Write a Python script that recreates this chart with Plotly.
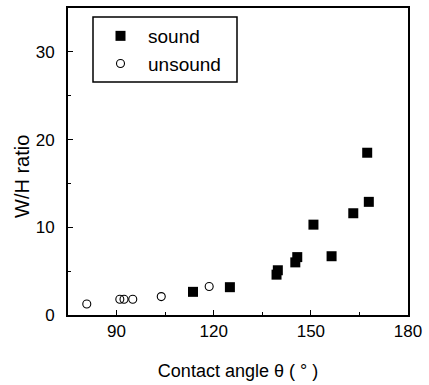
import plotly.graph_objects as go

sound_x = [113.6, 125.0, 139.4, 139.8, 145.2, 145.8, 150.8, 156.4, 163.1, 167.4, 167.9]
sound_y = [2.64, 3.17, 4.6, 5.1, 6.0, 6.6, 10.3, 6.7, 11.6, 18.5, 12.9]
unsound_x = [80.8, 91.0, 92.3, 95.0, 103.8, 118.6]
unsound_y = [1.26, 1.8, 1.8, 1.8, 2.1, 3.25]

x_ticks = [90, 120, 150, 180]
y_ticks = [0, 10, 20, 30]

font_family = "Liberation Sans, Arial, sans-serif"

# plot-area geometry (pixels) used to place the legend frame
L, R, T, B = 68, 408, 8, 315
W, H = R - L, B - T

fig = go.Figure()
fig.add_trace(go.Scatter(
    x=sound_x, y=sound_y, mode="markers", name="sound", legendgroup="a",
    marker=dict(symbol="square", size=10, color="black", line=dict(width=0))
))
fig.add_trace(go.Scatter(
    x=unsound_x, y=unsound_y, mode="markers", name="unsound", legendgroup="b",
    marker=dict(symbol="circle-open", size=8, color="black", line=dict(width=1.1))
))

fig.update_layout(
    width=429, height=385,
    margin=dict(l=L, r=429 - R, t=T, b=385 - B),
    paper_bgcolor="white", plot_bgcolor="white",
    font=dict(family=font_family, size=17, color="black"),
    showlegend=True,
    legend=dict(
        x=(93 - L) / W, y=(B - 17) / H, xanchor="left", yanchor="top",
        bgcolor="rgba(0,0,0,0)", borderwidth=0,
        font=dict(size=19, family=font_family),
        itemwidth=45,
        tracegroupgap=0,
    ),
    shapes=[dict(
        type="rect", xref="paper", yref="paper", layer="above",
        x0=(93 - L) / W, x1=(237 - L) / W, y0=(B - 82) / H, y1=(B - 17) / H,
        line=dict(color="black", width=1.5), fillcolor="rgba(0,0,0,0)",
    )],
    xaxis=dict(
        range=[75, 180], tickvals=x_ticks, ticks="inside", ticklen=5,
        tickcolor="black", showline=True, linecolor="black", linewidth=1.8,
        mirror=True, showgrid=False, zeroline=False, automargin=False,
        minor=dict(tickvals=[105, 135, 165], ticks="inside", ticklen=3, tickcolor="black"),
        title=dict(text="Contact angle θ ( ° )", font=dict(size=18), standoff=24),
        tickfont=dict(size=17),
    ),
    yaxis=dict(
        range=[0, 35], tickvals=y_ticks, ticks="inside", ticklen=5,
        tickcolor="black", showline=True, linecolor="black", linewidth=1.8,
        mirror=True, showgrid=False, zeroline=False, automargin=False,
        minor=dict(tickvals=[5, 15, 25], ticks="inside", ticklen=3, tickcolor="black"),
        ticklabelstandoff=8,
        tickfont=dict(size=17),
    ),
    annotations=[dict(
        text="W/H ratio", xref="paper", yref="paper",
        x=(22 - L) / W, y=(B - 177) / H, xanchor="center", yanchor="middle",
        textangle=-90, showarrow=False, font=dict(size=20, family=font_family),
    )],
)

fig.write_html(
    "out.html",
    config={"displayModeBar": False},
    post_script="document.body.style.margin='0';document.body.style.overflow='hidden';",
)
